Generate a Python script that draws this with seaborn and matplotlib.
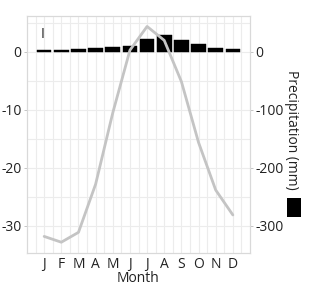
import matplotlib
matplotlib.use("Agg")
import matplotlib.pyplot as plt
import seaborn as sns
import pandas as pd
from matplotlib.patches import Rectangle

months = list(range(1, 13))
month_labels = ["J", "F", "M", "A", "M", "J", "J", "A", "S", "O", "N", "D"]
temperature = [-31.8, -32.8, -31.1, -22.8, -10.5, 0.3, 4.4, 2.0, -5.1, -15.6, -23.8, -28.1]
precipitation = [3.5, 3.5, 4.5, 7, 8, 11, 22, 30, 20, 13, 6.5, 5.7]
left_ticks = [0, -10, -20, -30]
right_ticks = [0, -100, -200, -300]

df = pd.DataFrame({"Month": months, "Temp": temperature, "Precip": precipitation})

sns.set_theme(style="white")
plt.rcParams["font.family"] = ["Open Sans", "DejaVu Sans"]

fig = plt.figure(figsize=(3.3, 2.9), dpi=100)
ax = fig.add_axes([27/330, 1-253/290, 223/330, 237/290])
ax2 = ax.twinx()

# layer order: bars (ax2) below line (ax)
ax.set_zorder(ax2.get_zorder() + 1)
ax.patch.set_visible(False)
ax2.patch.set_visible(True)
ax2.patch.set_facecolor("white")

ylo, yhi = -34.66, 6.2
ax.set_xlim(0, 13)
ax.set_ylim(ylo, yhi)
ax2.set_ylim(ylo*10, yhi*10)

# grid on ax2 (under bars)
grid_c = "#ececec"
for x in [i*0.5 for i in range(1, 26)]:
    ax2.axvline(x, color=grid_c, lw=0.8, zorder=0)
for y in [5, 0, -5, -10, -15, -20, -25, -30]:
    ax2.axhline(y*10, color=grid_c, lw=0.8, zorder=0)

sns.barplot(data=df, x="Month", y="Precip", ax=ax2, native_scale=True,
            color="black", width=0.85, saturation=1, edgecolor="black", linewidth=0.3, zorder=2)
sns.lineplot(data=df, x="Month", y="Temp", ax=ax, color="#c4c4c4", linewidth=2.0, zorder=3)

ax.set_xticks(months)
ax.set_xticklabels(month_labels)
ax.set_yticks(left_ticks)
ax.set_yticklabels([str(v) for v in left_ticks])
ax2.set_yticks(right_ticks)
ax2.set_yticklabels([str(v) for v in right_ticks])
ax2.set_xlim(0, 13)

ax.set_xlabel("Month", fontsize=10, labelpad=-1, color="#222222")
ax.set_ylabel("")
ax2.set_ylabel("")

for a in (ax, ax2):
    for s in a.spines.values():
        s.set_color("#d9d9d9")
        s.set_linewidth(0.8)
    a.tick_params(axis="both", which="both", labelsize=10, colors="#222222",
                  length=2.5, width=0.6, pad=1.5)
    a.tick_params(axis="both", color="#bbbbbb")
ax.tick_params(axis="x", length=0, pad=3)

ax.text(0.06, 0.955, "I", transform=ax.transAxes, ha="left", va="top", fontsize=10, color="#222222")

fig.text(292/330, 1-130/290, "Precipitation (mm)", rotation=270, ha="center", va="center",
         fontsize=10, color="#222222")
fig.patches.append(Rectangle((287/330, 1-217/290), 14/330, 19/290, transform=fig.transFigure,
                             facecolor="black", edgecolor="none"))

fig.savefig("out.png", dpi=100)
